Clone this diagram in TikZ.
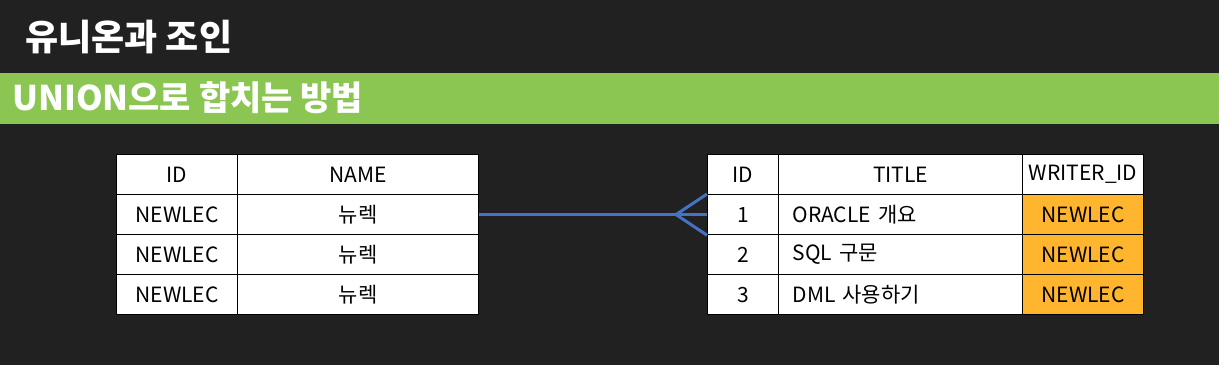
\documentclass[tikz,border=0pt]{standalone}
\usepackage{fontspec}
\setmainfont{Noto Sans CJK KR}
\usepackage{xcolor}
\usetikzlibrary{positioning,calc}

\definecolor{bgdark}{HTML}{212121}
\definecolor{bargreen}{HTML}{8BC653}
\definecolor{linkblue}{HTML}{4472C4}
\definecolor{keyorange}{HTML}{FFB52E}

\begin{document}
\begin{tikzpicture}[
    x=1pt, y=-1pt,
    cell/.style   = {draw=black, line width=1.2pt, fill=white, inner sep=0pt,
                     minimum height=40pt, anchor=north west,
                     font=\fontsize{21}{24}\selectfont},
    idcol/.style  = {cell, minimum width=121pt},
    namecol/.style= {cell, minimum width=241pt},
    numcol/.style = {cell, minimum width=71pt},
    titlecol/.style={cell, text width=216pt, inner xsep=14pt, align=left},
    fkcol/.style  = {cell, minimum width=121pt},
    link/.style   = {draw=linkblue, line width=3pt},
]

%% ── Background and headings ───────────────────────────────────────────────
\fill[bgdark] (0,0) rectangle (1219,365);
\fill[bargreen] (0,73) rectangle (1219,124);

\node[anchor=base west, inner sep=0pt, text=white,
      font=\fontsize{36}{40}\selectfont\bfseries] (title) at (25,50)
  {유니온과 조인};
\node[anchor=base west, inner sep=0pt, text=white,
      font=\fontsize{34}{38}\selectfont\bfseries] (subtitle) at (12,110)
  {UNION으로 합치는 방법};

%% ── Left table (writers) ──────────────────────────────────────────────────
\node[idcol]   (lid0)   at (116,154) {ID};
\node[namecol] (lname0) at (237,154) {NAME};
\node[idcol]   (lid1)   at (116,194) {NEWLEC};
\node[namecol] (lname1) at (237,194) {뉴렉};
\node[idcol]   (lid2)   at (116,234) {NEWLEC};
\node[namecol] (lname2) at (237,234) {뉴렉};
\node[idcol]   (lid3)   at (116,274) {NEWLEC};
\node[namecol] (lname3) at (237,274) {뉴렉};

%% ── Right table (notices) ─────────────────────────────────────────────────
\node[numcol]   (rid0)    at (707,154) {ID};
\node[cell, minimum width=244pt] (rtitle0) at (778,154) {TITLE};
\node[fkcol]    (rwriter0) at (1022,154) {WRITER\_ID};

\node[numcol]   (rid1)    at (707,194) {1};
\node[titlecol] (rtitle1) at (778,194) {ORACLE 개요};
\node[fkcol, fill=keyorange] (rwriter1) at (1022,194) {NEWLEC};

\node[numcol]   (rid2)    at (707,234) {2};
\node[titlecol] (rtitle2) at (778,234) {SQL 구문};
\node[fkcol, fill=keyorange] (rwriter2) at (1022,234) {NEWLEC};

\node[numcol]   (rid3)    at (707,274) {3};
\node[titlecol] (rtitle3) at (778,274) {DML 사용하기};
\node[fkcol, fill=keyorange] (rwriter3) at (1022,274) {NEWLEC};

%% ── One-to-many link ──────────────────────────────────────────────────────
\coordinate (fork) at ($(rid1.west)+(-31,0)$);
\draw[link] (lname1.east) -- (rid1.west);
\draw[link] (rid1.north west) -- (fork) -- (rid1.south west);

\end{tikzpicture}
\end{document}
